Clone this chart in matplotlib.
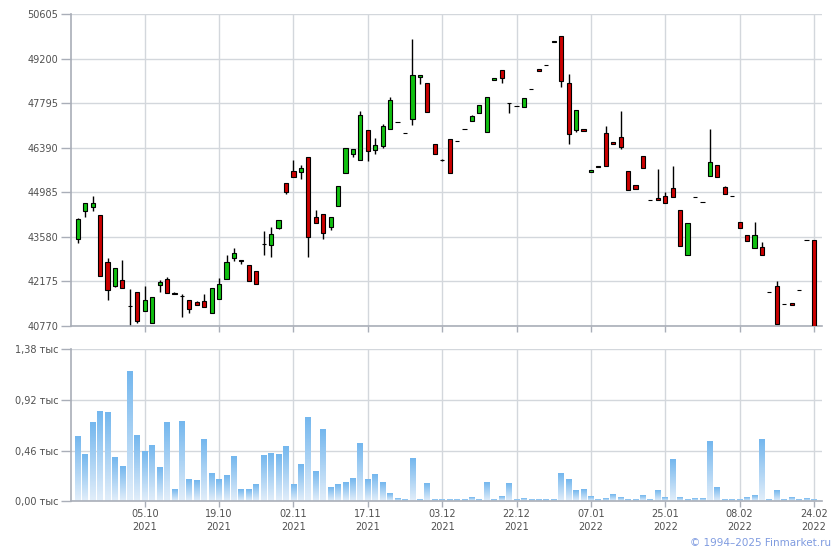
import numpy as np
import matplotlib
matplotlib.use("Agg")
from matplotlib import pyplot as plt
from matplotlib.patches import Rectangle
from matplotlib.colors import LinearSegmentedColormap

# daily candles, index 0 .. 99 (trading days 2021-09 .. 2022-02-24)
opens = [43505, 44389, 44515, 44262, 42779, 42043, 42211, 41401, 41832, 41254,
         40854, 42074, 42243, 41811, 41717, 41580, 41517, 41559, 41170, 41612,
         42264, 42905, 42853, 42685, 42495, 43368, 43316, 43873, 45283, 45651,
         45619, 46103, 44199, 44294, 43884, 44546, 45588, 46187, 45998, 46945,
         46324, 46440, 46976, 47197, 46850, 47292, 48617, 48428, 46503, 46019,
         46661, 46598, 46987, 47229, 47481, 46882, 48523, 48838, 47797, 47702,
         47671, 48239, 48870, 48996, 49722, 49911, 48428, 46945, 46987, 45619,
         45819, 46850, 46566, 46734, 45651, 45209, 46124, 44736, 44809, 44862,
         45114, 44420, 43000, 44830, 44673, 45493, 45840, 45146, 44862, 44041,
         43631, 43221, 43253, 41832, 42032, 41454, 41496, 41896, 43473, 43473]
highs = [44168, 44650, 44872, 44262, 42916, 42590, 42853, 41927, 41832, 42032,
         41675, 42222, 42316, 41843, 41780, 41580, 41548, 41780, 41959, 42285,
         43011, 43232, 42853, 42685, 42495, 43768, 43884, 44104, 45283, 45998,
         45851, 46103, 44431, 44294, 44199, 45178, 46387, 46345, 47555, 46945,
         46713, 47145, 47997, 47197, 46850, 49827, 48680, 48428, 46503, 46040,
         46661, 46598, 46987, 47418, 47734, 47986, 48586, 48838, 47797, 47702,
         47955, 48239, 48870, 48996, 49774, 49911, 48722, 47576, 46987, 45682,
         45819, 47081, 46566, 47555, 45651, 45209, 46124, 44736, 45714, 44988,
         45819, 44420, 44010, 44830, 44673, 46987, 45840, 45188, 44862, 44041,
         43631, 44052, 43410, 41832, 42190, 41454, 41496, 41896, 43473, 43473]
lows = [43400, 44220, 44410, 42337, 41601, 41990, 41959, 40770, 40875, 41254,
        40854, 41853, 41801, 41770, 41044, 41191, 41422, 41359, 41170, 41612,
        42243, 42811, 42716, 42180, 42085, 43021, 42937, 43841, 44925, 45461,
        45398, 42958, 44010, 43526, 43810, 44546, 45588, 46114, 45998, 45987,
        46208, 46377, 46976, 47197, 46850, 47124, 48396, 47534, 46187, 45987,
        45588, 46598, 46987, 47229, 47481, 46882, 48523, 48428, 47502, 47702,
        47671, 48239, 48807, 48996, 49722, 48302, 46503, 46882, 46913, 45619,
        45776, 45819, 46524, 46366, 45051, 45083, 45745, 44736, 44736, 44641,
        44830, 43284, 43000, 44830, 44673, 45493, 45461, 44925, 44862, 43852,
        43442, 43221, 43000, 41832, 40833, 41454, 41422, 41896, 43473, 40770]
closes = [44147, 44641, 44641, 42337, 41896, 42590, 41959, 41401, 40938, 41590,
          41675, 42148, 41801, 41770, 41717, 41296, 41422, 41359, 41959, 42085,
          42779, 43074, 42820, 42180, 42085, 43368, 43663, 44104, 45009, 45461,
          45745, 43568, 44010, 43694, 44199, 45178, 46387, 46345, 47429, 46282,
          46471, 47081, 47902, 47197, 46850, 48680, 48680, 47534, 46187, 46019,
          45588, 46598, 46987, 47387, 47734, 47986, 48586, 48586, 47797, 47702,
          47955, 48239, 48807, 48996, 49774, 48491, 46818, 47576, 46913, 45682,
          45776, 45819, 46524, 46408, 45051, 45083, 45745, 44736, 44736, 44641,
          44830, 43284, 44010, 44830, 44673, 45935, 45461, 44925, 44862, 43852,
          43442, 43631, 43000, 41832, 40833, 41454, 41422, 41896, 43473, 40770]

# volume, thousands
volumes = [0.584, 0.421, 0.711, 0.811, 0.802, 0.393, 0.312, 1.174, 0.593, 0.448,
           0.502, 0.303, 0.711, 0.103, 0.720, 0.194, 0.185, 0.557, 0.248, 0.194,
           0.230, 0.403, 0.103, 0.103, 0.148, 0.412, 0.430, 0.421, 0.493, 0.148,
           0.330, 0.757, 0.266, 0.648, 0.121, 0.148, 0.166, 0.203, 0.521, 0.194,
           0.239, 0.166, 0.067, 0.021, 0.012, 0.384, 0.012, 0.157, 0.012, 0.012,
           0.012, 0.012, 0.012, 0.030, 0.012, 0.166, 0.012, 0.039, 0.157, 0.012,
           0.021, 0.012, 0.012, 0.012, 0.012, 0.248, 0.194, 0.094, 0.103, 0.039,
           0.012, 0.021, 0.058, 0.030, 0.012, 0.012, 0.048, 0.012, 0.094, 0.030,
           0.375, 0.030, 0.012, 0.021, 0.021, 0.539, 0.121, 0.012, 0.012, 0.012,
           0.030, 0.048, 0.557, 0.012, 0.094, 0.012, 0.030, 0.012, 0.021, 0.012]

date_ticks = [9, 19, 29, 39, 49, 59, 69, 79, 89, 99]
date_labels = ["05.10\n2021", "19.10\n2021", "02.11\n2021", "17.11\n2021",
               "03.12\n2021", "22.12\n2021", "07.01\n2022", "25.01\n2022",
               "08.02\n2022", "24.02\n2022"]
price_ticks = [40770, 42175, 43580, 44985, 46390, 47795, 49200, 50605]
vol_ticks = [0.0, 0.46, 0.92, 1.38]
vol_labels = ["0,00 тыс", "0,46 тыс", "0,92 тыс", "1,38 тыс"]

GRID = "#d3d7dc"
AXIS = "#a9aeb8"
TXT = "#505050"
UP = "#10c010"
DOWN = "#cc0000"

fig = plt.figure(figsize=(8.4, 5.5), dpi=100)
ax = fig.add_axes([0.0842, 0.4073, 0.8944, 0.5667])
axv = fig.add_axes([0.0842, 0.0885, 0.8944, 0.2764])


def style(a):
    a.set_xlim(-0.95, 100.08)
    a.set_xticks(date_ticks)
    a.grid(True, color=GRID, lw=1)
    a.set_axisbelow(True)
    for s in ("top", "right"):
        a.spines[s].set_visible(False)
    for s in ("left", "bottom"):
        a.spines[s].set_color(AXIS)
        a.spines[s].set_linewidth(1.2)
    a.tick_params(axis="y", length=7, width=1, color=AXIS, labelsize=7,
                  labelcolor=TXT, pad=2)
    a.tick_params(axis="x", length=4, width=1, color=AXIS, labelsize=7,
                  labelcolor=TXT, pad=1.5)


# candles
style(ax)
ax.set_ylim(price_ticks[0], price_ticks[-1])
ax.set_yticks(price_ticks)
ax.set_yticklabels([str(p) for p in price_ticks])
ax.set_xticklabels([])
for i in range(len(opens)):
    o, h, l, c = opens[i], highs[i], lows[i], closes[i]
    ax.vlines(i, l, h, color="black", lw=1, zorder=2)
    col = UP if c > o else DOWN
    ax.add_patch(Rectangle((i - 0.28, min(o, c)), 0.56, abs(c - o),
                           facecolor=col, edgecolor="black", lw=0.8, zorder=3))

# volume bars with vertical gradient
style(axv)
axv.set_ylim(0, 1.38)
axv.set_yticks(vol_ticks)
axv.set_yticklabels(vol_labels)
axv.set_xticklabels(date_labels)
for lbl in axv.get_xticklabels():
    lbl.set_linespacing(1.35)
cmap = LinearSegmentedColormap.from_list("vol", ["#e2eefa", "#74b7ee"])
grad = np.linspace(0, 1, 64).reshape(-1, 1)
for i, v in enumerate(volumes):
    axv.imshow(grad, cmap=cmap, origin="lower", aspect="auto",
               extent=(i - 0.39, i + 0.39, 0, v), zorder=2)
axv.set_xlim(-0.95, 100.08)
axv.set_ylim(0, 1.38)

fig.text(0.989, 1 - 542.7 / 550, "© 1994–2025 Finmarket.ru", ha="right",
         va="center", color="#7f9be0", fontsize=7.5)

plt.savefig("out.png", dpi=100)
